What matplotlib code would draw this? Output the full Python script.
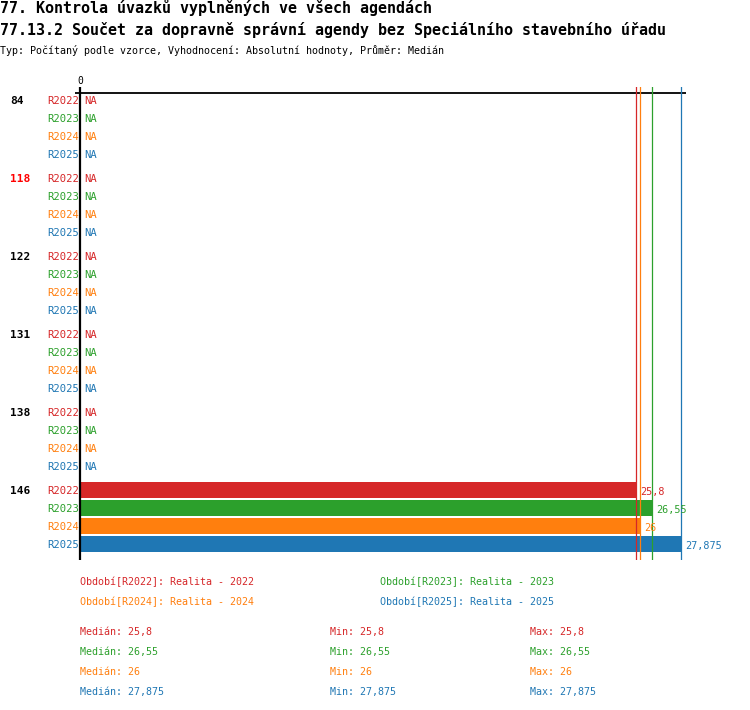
import matplotlib
matplotlib.use("Agg")
import matplotlib.pyplot as plt
from matplotlib.transforms import blended_transform_factory

# data
groups = ["84", "118", "122", "131", "138", "146"]
group_colors = ["black", "#ff0000", "black", "black", "black", "black"]
series = ["R2022", "R2023", "R2024", "R2025"]
colors = ["#d62728", "#2ca02c", "#ff7f0e", "#1f77b4"]
values = {
    "84": [None, None, None, None],
    "118": [None, None, None, None],
    "122": [None, None, None, None],
    "131": [None, None, None, None],
    "138": [None, None, None, None],
    "146": [25.8, 26.55, 26, 27.875],
}
medians = [25.8, 26.55, 26, 27.875]
mins = [25.8, 26.55, 26, 27.875]
maxs = [25.8, 26.55, 26, 27.875]
legend_labels = ["Období[R2022]: Realita - 2022", "Období[R2023]: Realita - 2023",
                 "Období[R2024]: Realita - 2024", "Období[R2025]: Realita - 2025"]

W, H = 750, 710
MONO = "DejaVu Sans Mono"
PX_PER_UNIT = 21.55


def fmt(v):
    s = f"{v:g}"
    return s.replace(".", ",")


def fx(px):
    return px / W


def fy(py):
    return 1 - py / H


def main():
    fig = plt.figure(figsize=(W / 100, H / 100), dpi=100)
    ax_left, ax_right, ax_top, ax_bot = 75, 686, 87, 560
    ax = fig.add_axes([fx(ax_left), fy(ax_bot), (ax_right - ax_left) / W,
                       (ax_bot - ax_top) / H])
    ax.set_xlim(-(80 - ax_left) / PX_PER_UNIT, (ax_right - 80) / PX_PER_UNIT)
    row_gap = 78 / 18
    top_pad = 13 / 18
    last = (len(groups) - 1) * row_gap + len(series) - 1
    ax.set_ylim(last + 16 / 18, -top_pad)
    ax.axis("off")

    # axis lines
    ax.axvline(0, color="black", lw=1.6)
    ax.axhline(-top_pad + 5.5 / 18, color="black", lw=1.3)
    for m, c in zip(medians, colors):
        ax.axvline(m, color=c, lw=0.9)

    lab_tr = blended_transform_factory(fig.transFigure, ax.transData)
    dy = 1.2 / 18  # nudge text down a pixel
    for g, (grp, gc) in enumerate(zip(groups, group_colors)):
        y0 = g * row_gap
        ax.text(fx(10), y0 + dy, grp, transform=lab_tr, fontsize=8,
                fontweight="bold", color=gc, family=MONO, va="center",
                ha="left")
        for r, (s, c) in enumerate(zip(series, colors)):
            y = y0 + r
            v = values[grp][r]
            ax.text(fx(79), y + dy, s, transform=lab_tr, fontsize=7.6, color=c,
                    family=MONO, va="center", ha="right")
            if v is None:
                ax.text(4 / PX_PER_UNIT, y + dy, "NA", fontsize=7.6, color=c,
                        family=MONO, va="center", ha="left")
            else:
                ax.barh(y, v, height=16 / 18, left=1 / PX_PER_UNIT, color=c)
                ax.text(v + 4 / PX_PER_UNIT, y + 0.1, fmt(v), fontsize=7.3,
                        color=c, family=MONO, va="center", ha="left")

    ax.text(0, -top_pad - 1.5 / 18, "0", fontsize=7, family=MONO, ha="center",
            va="bottom", clip_on=False)

    # titles
    fig.text(fx(0), fy(8), "77. Kontrola úvazků vyplněných ve všech agendách",
             fontsize=10.8, fontweight="bold", family=MONO, va="center")
    fig.text(fx(0), fy(30), "77.13.2 Součet za dopravně správní agendy bez "
             "Speciálního stavebního úřadu", fontsize=10.8, fontweight="bold",
             family=MONO, va="center")
    fig.text(fx(0), fy(50), "Typ: Počítaný podle vzorce, Vyhodnocení: Absolutní "
             "hodnoty, Průměr: Medián", fontsize=7.2, family=MONO, va="center")

    # legend
    leg_pos = [(80, 582), (380, 582), (80, 602), (380, 602)]
    for (x, y), lab, c in zip(leg_pos, legend_labels, colors):
        fig.text(fx(x), fy(y), lab, fontsize=7.2, color=c, family=MONO,
                 va="center")

    # statistics
    for i, c in enumerate(colors):
        y = 632 + i * 20
        fig.text(fx(80), fy(y), f"Medián: {fmt(medians[i])}", fontsize=7.2,
                 color=c, family=MONO, va="center")
        fig.text(fx(330), fy(y), f"Min: {fmt(mins[i])}", fontsize=7.2,
                 color=c, family=MONO, va="center")
        fig.text(fx(530), fy(y), f"Max: {fmt(maxs[i])}", fontsize=7.2,
                 color=c, family=MONO, va="center")

    fig.savefig("out.png", dpi=100)


if __name__ == "__main__":
    main()
